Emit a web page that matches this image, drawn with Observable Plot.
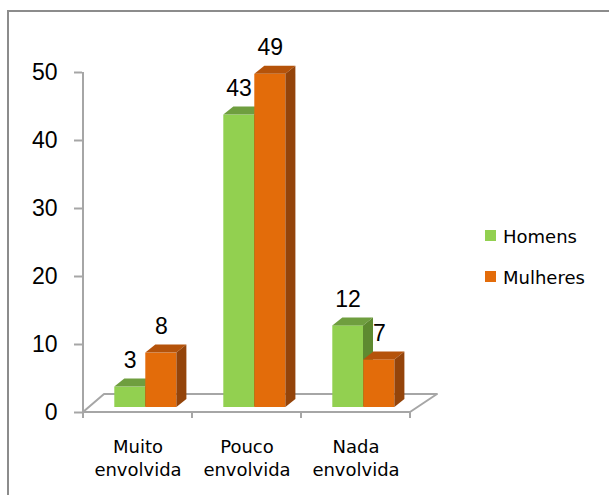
<!DOCTYPE html>
<html><head><meta charset="utf-8">
<script src="https://cdn.jsdelivr.net/npm/d3@7"></script>
<script src="https://cdn.jsdelivr.net/npm/@observablehq/plot@0.6"></script>
<style>
body{margin:0;background:#fff;}
#wrap{position:relative;width:609px;height:495px;overflow:hidden;background:#fff;}
#border{position:absolute;left:7px;top:10px;width:700px;height:600px;border-top:2px solid #8c8c8c;border-left:2px solid #8c8c8c;}
#chart{position:absolute;left:0;top:0;}
.lg-sw{position:absolute;width:11px;height:11px;}
.lg-tx{position:absolute;font-family:"DejaVu Sans";font-size:18px;line-height:20px;color:#000;white-space:nowrap;}
</style></head>
<body><div id="wrap"><div id="border"></div><div id="chart"></div><div id="legend"></div></div>
<script>
const categories = ["Muito envolvida", "Pouco envolvida", "Nada envolvida"];
const series = ["Homens", "Mulheres"];
const homens = [3, 43, 12];
const mulheres = [8, 49, 7];
const yTicks = [0, 10, 20, 30, 40, 50];
const frontColors = ["#92D050", "#E36C0A"];
const topColors = ["#6F9E3F", "#B5530A"];
const sideColors = ["#5E8A30", "#94440A"];

const values = [homens, mulheres];
const data = [];
categories.forEach((c, i) => series.forEach((s, j) => data.push({category: c, series: s, value: values[j][i]})));

// layout styling constants
const insets = [[31.3, 47.0], [62.3, 15.6]];
const lift = 5;          // bars sit slightly behind the front edge of the floor
const depth = [10, -8];  // 3D depth vector of bars
const floorDepth = [[21, -18], [27, -18]];

function bw(scales) {
  const b = scales.x.bandwidth;
  return typeof b === "function" ? b() : b;
}

function floorMark(index, scales) {
  const g = d3.create("svg:g");
  const band = bw(scales);
  const xs = categories.map(c => scales.x(c));
  const xl = xs[0], xr = xs[xs.length - 1] + band;
  const y0 = scales.y(0), yTop = scales.y(d3.max(yTicks));
  g.append("path")
    .attr("d", `M${xl},${y0}L${xr},${y0}L${xr + floorDepth[1][0]},${y0 + floorDepth[1][1]}L${xl + floorDepth[0][0]},${y0 + floorDepth[0][1]}Z`)
    .attr("fill", "white").attr("stroke", "#a6a6a6").attr("stroke-width", 2).attr("stroke-linejoin", "round");
  g.append("line").attr("x1", xl).attr("x2", xl).attr("y1", yTop).attr("y2", y0)
    .attr("stroke", "#a6a6a6").attr("stroke-width", 2);
  [...xs, xr].forEach(x => g.append("line").attr("x1", x).attr("x2", x).attr("y1", y0).attr("y2", y0 + 6)
    .attr("stroke", "#a6a6a6").attr("stroke-width", 2));
  return g.node();
}

function facesMark(s) {
  const rows = data.filter(d => d.series === series[s]);
  return (index, scales) => {
    const g = d3.create("svg:g");
    const band = bw(scales);
    rows.forEach(d => {
      const bx = scales.x(d.category);
      const x0 = bx + insets[s][0], x1 = bx + band - insets[s][1];
      const yt = scales.y(d.value) - lift, yb = scales.y(0) - lift;
      const [dx, dy] = depth;
      g.append("path").attr("d", `M${x0},${yt}L${x1},${yt}L${x1 + dx},${yt + dy}L${x0 + dx},${yt + dy}Z`)
        .attr("fill", topColors[s]);
      g.append("path").attr("d", `M${x1},${yt}L${x1 + dx},${yt + dy}L${x1 + dx},${yb + dy}L${x1},${yb}Z`)
        .attr("fill", sideColors[s]);
    });
    return g.node();
  };
}

const barMarks = [];
series.forEach((s, j) => {
  barMarks.push(Plot.barY(data.filter(d => d.series === s), {
    x: "category", y: "value", fill: frontColors[j], dy: -lift,
    insetLeft: insets[j][0], insetRight: insets[j][1]
  }));
  barMarks.push(facesMark(j));
});

const labelDx = [-7.9, 23.3];

const chart = Plot.plot({
  width: 609,
  height: 495,
  marginLeft: 82,
  marginRight: 199,
  marginTop: 72,
  marginBottom: 83,
  style: {fontFamily: "Liberation Sans", fontSize: "23px", color: "#000", background: "transparent", overflow: "visible"},
  x: {domain: categories, padding: 0, axis: null},
  y: {domain: [0, 50], axis: null},
  marks: [
    floorMark,
    Plot.axisY({ticks: yTicks, tickSize: 8, tickPadding: 17, stroke: "#a6a6a6", strokeWidth: 2, fill: "#000", fontSize: 23, label: null}),
    ...barMarks,
    ...series.map((s, j) => Plot.text(data.filter(d => d.series === s), {
      x: "category", y: "value", text: d => String(d.value), dx: labelDx[j], dy: -lift - 19,
      lineAnchor: "bottom", fontSize: 23, fill: "#000"
    })),
    Plot.text(categories, {
      x: d => d, y: () => 0, text: d => d.replace(" ", "\n"), dy: 23,
      lineAnchor: "top", lineHeight: 1.33, fontSize: 18, fontFamily: "DejaVu Sans", fill: "#000"
    })
  ]
});
document.getElementById("chart").appendChild(chart);

// legend
const legend = d3.select("#legend");
const legendTops = [230, 271];
series.forEach((s, j) => {
  legend.append("div").attr("class", "lg-sw")
    .style("left", "485px").style("top", legendTops[j] + "px").style("background", frontColors[j]);
  legend.append("div").attr("class", "lg-tx")
    .style("left", "503px").style("top", (legendTops[j] - 3.2) + "px").text(s);
});
</script>
</body></html>
